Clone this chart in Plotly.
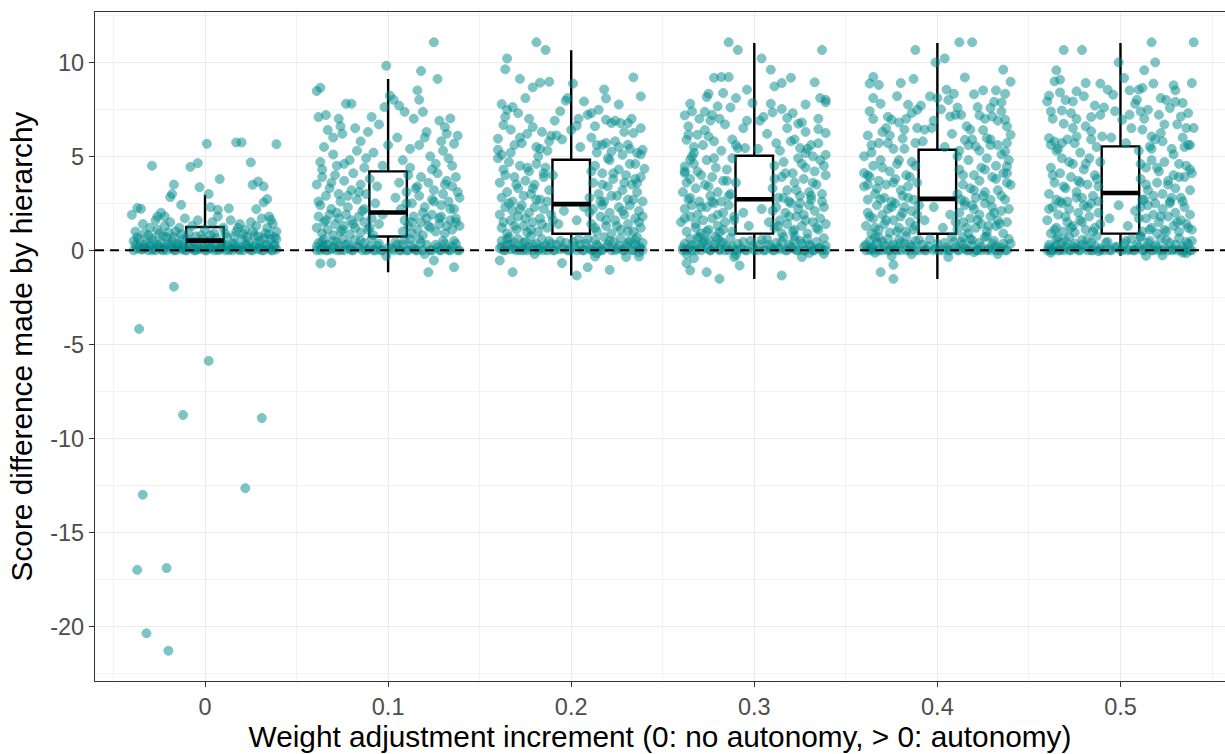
import plotly.graph_objects as go

# ---------------- data ----------------
groups = [0.0, 0.1, 0.2, 0.3, 0.4, 0.5]
tick_labels = ["0", "0.1", "0.2", "0.3", "0.4", "0.5"]

# box statistics
box_q1 = [0.0, 0.74, 0.88, 0.89, 0.88, 0.89]
box_median = [0.52, 2.01, 2.46, 2.72, 2.74, 3.05]
box_q3 = [1.24, 4.20, 4.82, 5.03, 5.35, 5.53]
box_lower = [0.0, -1.16, -1.34, -1.52, -1.52, -0.29]
box_upper = [2.96, 9.12, 10.64, 11.03, 11.03, 11.03]

# jittered points: (jitter offset in thousandths of x unit, score difference)
points_g0 = [
    (1, 5.67), (17, 5.74), (20, 5.74), (39, 5.65), (-29, 4.5), (-8, 4.44), (-4, 4.64), (25, 4.68),
    (8, 3.79), (-17, 3.5), (-3, 3.36), (26, 3.49), (29, 3.66), (32, 3.4), (-18, 3.0), (-19, 2.83),
    (2, 3.0), (-13, 2.42), (34, 2.73), (32, 2.55), (-37, 2.25), (-35, 2.21), (-40, 1.89), (-24, 2.0),
    (-26, 1.8), (-22, 1.8), (3, 2.3), (7, 2.16), (13, 2.23), (28, 2.19), (35, 1.8), (36, 1.62),
    (-38, 1.0), (-36, 0.6), (-34, 1.4), (-33, 0.3), (-31, 0.8), (-30, 1.2), (-28, 0.5), (-27, 1.6),
    (-25, 0.9), (-24, 0.4), (-22, 1.3), (-21, 0.7), (-19, 1.5), (-18, 0.5), (-16, 1.0), (-15, 0.35),
    (-14, 1.2), (-12, 0.6), (-11, 1.7), (-9, 0.9), (-7, 1.3), (-6, 0.45), (-4, 1.6), (-2, 0.8),
    (0, 1.1), (2, 0.5), (4, 1.5), (5, 0.9), (7, 1.8), (9, 0.4), (10, 1.2), (12, 0.7), (14, 1.6),
    (15, 0.35), (17, 1.0), (19, 1.4), (20, 0.6), (22, 1.1), (24, 0.45), (25, 1.5), (27, 0.8),
    (28, 1.3), (30, 0.5), (31, 1.7), (33, 0.9), (34, 1.2), (36, 0.6), (37, 1.4), (38, 0.3), (39, 1.0),
    (-39, 0.0), (-37, 0.1), (-36, 0.2), (-34, 0.05), (-33, 0.15), (-31, 0.0), (-30, 0.25), (-28, 0.1),
    (-27, 0.0), (-25, 0.2), (-24, 0.05), (-22, 0.15), (-21, 0.0), (-19, 0.25), (-18, 0.1), (-16, 0.0),
    (-15, 0.2), (-13, 0.05), (-12, 0.15), (-10, 0.0), (-9, 0.25), (-7, 0.1), (-6, 0.0), (-4, 0.2),
    (-3, 0.05), (-1, 0.15), (0, 0.0), (2, 0.25), (3, 0.1), (5, 0.0), (6, 0.2), (8, 0.05), (9, 0.15),
    (11, 0.0), (12, 0.25), (14, 0.1), (15, 0.0), (17, 0.2), (18, 0.05), (20, 0.15), (21, 0.0),
    (23, 0.25), (24, 0.1), (26, 0.0), (27, 0.2), (29, 0.05), (30, 0.15), (32, 0.0), (33, 0.25),
    (35, 0.1), (36, 0.0), (38, 0.2), (39, 0.05),
    (-38, 0.3), (-35, 0.05), (-32, 0.4), (-29, 0.0), (-26, 0.3), (-23, 0.0), (-20, 0.35), (-17, 0.0),
    (-14, 0.3), (-11, 0.0), (-8, 0.35), (-5, 0.0), (-2, 0.3), (1, 0.0), (4, 0.35), (7, 0.0), (10, 0.3),
    (13, 0.0), (16, 0.35), (19, 0.0), (22, 0.3), (25, 0.0), (28, 0.35), (31, 0.0), (34, 0.3), (37, 0.0),
    (-37, 0.7), (-33, 0.9), (-29, 0.65), (-26, 1.1), (-23, 0.75), (-20, 0.95), (-17, 0.7), (-13, 0.85),
    (-10, 0.6), (-5, 0.75), (-1, 0.6), (3, 0.8), (6, 0.65), (11, 0.9), (16, 0.75), (18, 1.2), (21, 0.85),
    (23, 0.7), (26, 1.0), (29, 0.75), (32, 0.65), (35, 0.85), (38, 0.7), (-39, 0.5), (39, 0.6),
    (-17, -1.93), (-36, -4.18), (2, -5.88), (-12, -8.76), (31, -8.92), (22, -12.65), (-34, -13.0),
    (-21, -16.9), (-37, -17.0), (-32, -20.37), (-20, -21.3),
]

points_g1 = [
    (25, 11.07), (-1, 9.82), (18, 9.54), (27, 9.12), (-37, 8.65), (-39, 8.48), (16, 8.51), (17, 8.01),
    (1, 8.23), (3, 8.01), (-2, 7.62), (-23, 7.8), (-20, 7.8), (-38, 7.09), (-27, 7.0), (9, 7.37),
    (14, 7.0), (19, 7.37), (34, 7.02), (28, 6.9), (31, 6.56), (36, 5.67),
    (-33, 6.4), (-30, 6.0), (-35, 5.5), (-25, 6.2), (-18, 6.5), (-15, 5.8), (-11, 6.3), (-8, 5.2),
    (-5, 6.7), (0, 5.6), (5, 6.0), (8, 4.8), (12, 5.4), (21, 6.3), (23, 5.0), (26, 4.6), (30, 5.3),
    (33, 4.9), (38, 6.1), (-28, 4.5), (-21, 4.8), (-13, 4.4), (-37, 4.7), (-3, 4.5),
    (-39, 3.5), (-37, 2.4), (-36, 3.9), (-34, 2.9), (-32, 3.3), (-31, 2.2), (-29, 4.0), (-27, 3.0),
    (-26, 2.6), (-24, 3.7), (-22, 2.3), (-20, 3.2), (-19, 4.1), (-17, 2.7), (-15, 3.5), (-14, 2.1),
    (-12, 3.0), (-10, 3.8), (-7, 2.5), (-6, 3.4), (4, 2.8), (6, 3.6), (7, 2.2), (10, 3.1), (11, 4.0),
    (13, 2.5), (15, 3.3), (17, 2.9), (18, 3.9), (20, 2.3), (22, 3.6), (24, 2.7), (25, 3.2), (27, 4.1),
    (29, 2.4), (30, 3.0), (32, 3.7), (33, 2.6), (35, 3.4), (36, 2.2), (37, 3.9), (39, 2.8), (38, 3.1),
    (-39, 1.2), (-38, 1.8), (-36, 0.9), (-35, 1.5), (-33, 1.1), (-32, 1.9), (-30, 0.8), (-29, 1.4),
    (-27, 1.7), (-26, 1.0), (-24, 1.3), (-23, 1.9), (-21, 0.85), (-20, 1.6), (-18, 1.2), (-16, 1.8),
    (-15, 0.95), (-13, 1.5), (-11, 1.1), (-9, 1.7), (-8, 0.8), (-5, 1.4), (-3, 1.9), (8, 1.0),
    (9, 1.6), (11, 1.3), (13, 0.9), (14, 1.8), (16, 1.1), (18, 1.5), (19, 0.8), (21, 1.7), (23, 1.2),
    (24, 1.9), (26, 1.0), (28, 1.4), (29, 1.8), (31, 0.9), (32, 1.3), (34, 1.6), (35, 1.1), (37, 1.7),
    (39, 1.3),
    (-39, 0.0), (-38, 0.4), (-37, -0.7), (-36, 0.1), (-35, 0.6), (-34, 0.0), (-33, 0.3), (-31, -0.67),
    (-31, 0.05), (-30, 0.5), (-28, 0.0), (-27, 0.2), (-25, 0.6), (-24, 0.0), (-22, 0.35), (-21, 0.1),
    (-19, 0.0), (-18, 0.55), (-16, 0.15), (-14, 0.0), (-13, 0.4), (-11, 0.05), (-9, 0.65), (-8, 0.0),
    (-6, 0.25), (-4, 0.0), (-1, -0.3), (2, 0.1), (4, 0.45), (6, 0.0), (8, 0.3), (10, 0.0), (12, 0.6),
    (14, 0.1), (16, 0.0), (18, 0.4), (20, -0.2), (22, -1.16), (23, 0.0), (25, -0.54), (26, 0.3),
    (28, 0.0), (30, 0.5), (32, 0.1), (34, 0.0), (36, -0.9), (37, 0.35), (39, 0.0),
    (-39, 0.2), (-37, 0.0), (-35, 0.25), (-33, 0.0), (-30, 0.15), (-28, 0.45), (-26, 0.0), (-23, 0.3),
    (-20, 0.0), (-17, 0.2), (-15, 0.5), (-12, 0.0), (-10, 0.2), (-7, 0.0), (-5, 0.35), (-3, 0.0),
    (0, 0.15), (3, 0.0), (5, 0.3), (7, 0.0), (9, 0.55), (11, 0.0), (13, 0.25), (15, 0.0), (17, 0.6),
    (19, 0.0), (21, 0.3), (24, 0.0), (27, 0.15), (29, 0.0), (31, 0.35), (33, 0.0), (35, 0.2), (38, 0.0),
    (-36, 0.45), (36, 0.5),
    (-38, 2.6), (-34, 1.6), (-31, 3.6), (-28, 2.0), (-25, 1.1), (-22, 2.9), (-19, 1.4), (-16, 3.1),
    (-13, 2.2), (-10, 1.2), (10, 2.5), (13, 1.5), (16, 3.4), (19, 2.0), (22, 1.3), (25, 2.6), (28, 1.7),
    (31, 3.5), (34, 2.2), (37, 1.5), (-36, 4.3), (-30, 5.1), (-24, 4.6), (-17, 5.3), (-12, 4.9),
    (12, 4.4), (17, 5.6), (24, 4.3), (29, 5.8), (35, 4.5), (-34, 7.2), (-26, 6.6), (-9, 7.1), (6, 7.7),
    (20, 6.0), (32, 6.2),
]

points_g2 = [
    (-19, 11.07), (-14, 10.66), (-35, 10.21), (-36, 9.63), (-28, 9.12), (-21, 8.67), (-17, 8.92),
    (-12, 8.97), (1, 8.87), (34, 9.2), (38, 8.19), (18, 8.56), (19, 8.08), (26, 7.76), (-25, 8.1),
    (-38, 7.78), (-35, 7.48), (-32, 7.62), (-3, 7.96), (-2, 8.1), (7, 7.92), (-37, 6.67), (-33, 6.42),
    (-21, 6.56), (-40, 5.94), (-40, 5.35), (-38, 5.08), (-17, 5.4), (-9, 6.9), (-11, 6.1), (-8, 6.11),
    (3, 6.63), (9, 7.21), (11, 7.3), (15, 7.48), (19, 6.95), (22, 6.77), (27, 6.77), (31, 6.77),
    (34, 6.24), (31, 5.62), (36, 5.18), (39, 5.35), (40, 4.34), (36, 3.58), (19, 5.71), (17, 5.62),
    (22, 5.26), (28, 5.08), (-32, -1.16), (-5, -0.68), (3, -1.34), (9, -0.9), (21, -1.04),
    (-39, -0.54), (30, -0.36), (37, -0.33), (13, -0.33),
    (-39, 0.1), (-38, 0.5), (-37, 0.0), (-35, 0.3), (-34, 0.7), (-33, 0.05), (-31, 0.4), (-30, 0.0),
    (-29, 0.6), (-27, 0.15), (-26, 0.0), (-25, 0.45), (-23, 0.2), (-22, 0.75), (-21, 0.0), (-19, 0.35),
    (-18, 0.1), (-16, 0.6), (-15, 0.0), (-14, 0.25), (-12, 0.5), (-10, 0.0), (-8, 0.3), (-6, 0.05),
    (-3, 0.4), (-1, 0.0), (2, 0.2), (4, 0.6), (6, 0.0), (8, 0.35), (10, 0.1), (12, 0.0), (13, 0.55),
    (15, 0.2), (17, 0.0), (18, 0.7), (20, 0.3), (22, 0.0), (23, 0.45), (25, 0.1), (27, 0.65), (28, 0.0),
    (30, 0.25), (32, 0.5), (33, 0.0), (35, 0.3), (36, 0.7), (38, 0.1), (39, 0.4), (37, -0.1),
    (-20, -0.2), (14, -0.15),
    (-39, 1.9), (-38, 1.2), (-36, 2.3), (-35, 0.9), (-33, 1.6), (-32, 2.1), (-30, 1.1), (-29, 1.8),
    (-27, 2.4), (-26, 1.3), (-24, 0.95), (-23, 2.0), (-21, 1.5), (-20, 2.3), (-18, 1.0), (-17, 1.7),
    (-15, 2.2), (-13, 1.2), (-11, 1.9), (11, 1.4), (12, 2.2), (14, 1.0), (16, 1.8), (17, 2.4),
    (19, 1.3), (21, 2.0), (22, 0.9), (24, 1.6), (26, 2.3), (27, 1.1), (29, 1.9), (31, 1.4), (32, 2.4),
    (34, 1.0), (35, 1.7), (37, 2.1), (38, 1.2), (39, 1.8), (-7, 1.4), (-4, 2.1), (3, 1.6), (7, 2.3),
    (-39, 3.6), (-38, 2.8), (-37, 4.3), (-35, 3.1), (-34, 4.7), (-32, 2.6), (-31, 3.9), (-29, 3.3),
    (-28, 4.5), (-26, 2.9), (-25, 3.7), (-23, 4.2), (-22, 3.0), (-20, 3.5), (-19, 4.6), (-17, 2.7),
    (-15, 3.9), (-14, 4.4), (-12, 3.2), (-10, 4.0), (10, 2.8), (12, 3.6), (13, 4.5), (15, 3.0),
    (17, 4.1), (18, 2.6), (20, 3.4), (21, 4.8), (23, 3.8), (25, 2.9), (26, 4.3), (28, 3.2), (30, 4.0),
    (31, 2.7), (33, 3.5), (35, 4.6), (36, 3.1), (38, 3.9), (39, 2.6), (-40, 4.9),
    (-31, 5.6), (-24, 6.2), (-13, 5.3), (-5, 5.9), (0, 6.4), (5, 5.5), (11, 6.0), (14, 5.2), (24, 5.8),
    (29, 6.3), (32, 5.4), (-28, 6.0), (-19, 5.5),
    (-38, 0.2), (-36, 0.0), (-33, 0.3), (-31, 0.1), (-28, 0.0), (-26, 0.4), (-24, 0.0), (-21, 0.3),
    (-18, 0.0), (-16, 0.15), (-13, 0.0), (-11, 0.35), (-9, 0.0), (-6, 0.5), (-4, 0.1), (-2, 0.0),
    (1, 0.45), (3, 0.0), (5, 0.3), (7, 0.0), (9, 0.6), (11, 0.0), (14, 0.3), (16, 0.0), (19, 0.15),
    (21, 0.5), (24, 0.0), (26, 0.25), (29, 0.0), (31, 0.4), (34, 0.0), (37, 0.2), (39, 0.0), (-35, 0.6),
    (35, 0.55),
    (-37, 1.5), (-34, 2.5), (-31, 1.3), (-28, 2.2), (-25, 1.7), (-22, 1.1), (-19, 2.7), (-16, 1.4),
    (-13, 2.6), (-10, 1.6), (10, 2.0), (13, 1.2), (16, 2.6), (19, 1.6), (22, 2.9), (25, 1.3), (28, 2.1),
    (31, 1.0), (34, 2.7), (37, 1.5),
    (-36, 4.0), (-33, 5.2), (-30, 3.5), (-27, 5.7), (-24, 4.4), (-21, 3.3), (-18, 5.0), (-15, 4.1),
    (-12, 5.8), (11, 4.2), (14, 5.6), (17, 3.5), (20, 4.9), (23, 4.1), (26, 5.5), (29, 3.6), (32, 4.6),
    (35, 3.8), (38, 5.1),
    (-36, 7.1), (-29, 7.3), (-23, 7.0), (-16, 6.3), (-6, 7.4), (4, 7.0), (13, 6.6), (24, 6.9), (33, 7.0),
    (38, 6.5),
]

points_g3 = [
    (-14, 11.07), (-9, 10.66), (37, 10.66), (4, 10.21), (9, 9.61), (-22, 9.18), (-18, 9.22), (-14, 9.22),
    (11, 8.72), (15, 8.9), (20, 9.18), (33, 8.94), (39, 8.01), (39, 7.87), (28, 7.76), (-25, 8.33),
    (-26, 8.16), (-17, 8.37), (-10, 8.1), (-4, 8.55), (-38, 7.18), (-34, 7.39), (-35, 7.8), (-27, 7.37),
    (-20, 7.66), (-23, 7.21), (-1, 7.84), (10, 7.34), (15, 7.52), (18, 7.04), (24, 6.74), (35, 7.0),
    (35, 6.45), (39, 6.24), (-36, 6.15), (-37, 5.88), (-31, 6.15), (-25, 6.06), (39, 5.08), (25, 5.44),
    (28, 5.18), (32, 5.0), (-33, 5.18), (-38, 4.46), (-38, 4.11), (-35, 4.82), (-5, 5.44), (-9, 5.44),
    (-26, -1.16), (-19, -1.52), (15, -1.34), (-8, -0.81), (-35, -1.07), (-37, -0.68), (26, -0.36),
    (38, -0.19), (-33, -0.42), (-11, -0.36),
    (-39, 0.0), (-38, 0.35), (-36, 0.1), (-35, 0.6), (-34, 0.0), (-32, 0.25), (-31, 0.7), (-29, 0.0),
    (-28, 0.4), (-26, 0.1), (-25, 0.55), (-24, 0.0), (-22, 0.3), (-21, 0.75), (-19, 0.05), (-18, 0.45),
    (-16, 0.0), (-15, 0.2), (-13, 0.65), (-11, 0.0), (-9, 0.35), (-7, 0.1), (-5, 0.0), (-2, 0.5),
    (0, 0.0), (3, 0.3), (5, 0.0), (7, 0.6), (9, 0.15), (11, 0.0), (12, 0.4), (14, 0.05), (16, 0.7),
    (17, 0.0), (19, 0.3), (21, 0.1), (22, 0.55), (24, 0.0), (26, 0.35), (27, 0.0), (29, 0.6), (31, 0.2),
    (32, 0.0), (34, 0.45), (35, 0.1), (37, 0.0), (38, 0.65), (39, 0.25), (-37, -0.2), (30, -0.15),
    (-10, -0.25),
    (-40, 1.5), (-38, 2.2), (-37, 1.0), (-35, 1.8), (-34, 2.4), (-32, 1.2), (-31, 1.9), (-29, 0.9),
    (-28, 1.6), (-26, 2.3), (-25, 1.1), (-23, 1.7), (-22, 2.5), (-20, 1.3), (-19, 0.95), (-17, 2.0),
    (-16, 1.5), (-14, 2.4), (-12, 1.0), (-11, 1.8), (11, 1.2), (12, 2.3), (14, 1.6), (15, 0.9),
    (17, 2.0), (18, 1.4), (20, 2.5), (21, 1.0), (23, 1.8), (24, 2.2), (26, 1.3), (27, 1.9), (29, 0.9),
    (30, 2.4), (32, 1.5), (33, 2.1), (35, 1.1), (36, 1.7), (38, 2.3), (39, 1.4), (-6, 2.0), (-3, 1.3),
    (4, 2.2), (8, 1.5),
    (-39, 3.1), (-38, 4.2), (-36, 2.7), (-35, 3.8), (-33, 4.6), (-32, 3.3), (-30, 2.6), (-29, 4.0),
    (-27, 3.5), (-26, 4.8), (-24, 2.9), (-23, 3.9), (-21, 4.4), (-20, 3.1), (-18, 2.6), (-17, 3.7),
    (-15, 4.3), (-13, 3.0), (-12, 4.9), (-10, 3.6), (10, 3.3), (11, 4.5), (13, 2.8), (15, 3.9),
    (16, 4.7), (18, 3.2), (19, 2.6), (21, 4.1), (22, 3.6), (24, 4.9), (25, 2.9), (27, 3.8), (28, 4.4),
    (30, 3.1), (31, 2.7), (33, 4.2), (34, 3.5), (36, 4.8), (37, 3.0), (39, 4.0),
    (-33, 5.5), (-27, 6.4), (-22, 5.8), (-16, 6.7), (-10, 5.6), (-4, 6.9), (2, 5.4), (7, 6.2),
    (12, 5.7), (18, 6.5), (22, 5.9), (26, 6.8), (31, 5.6), (-19, 7.0), (5, 7.1),
    (-39, 0.15), (-37, 0.0), (-34, 0.3), (-32, 0.0), (-29, 0.2), (-27, 0.5), (-24, 0.0), (-22, 0.15),
    (-19, 0.0), (-17, 0.4), (-14, 0.0), (-12, 0.2), (-9, 0.0), (-6, 0.45), (-4, 0.0), (-1, 0.25),
    (2, 0.0), (4, 0.55), (6, 0.0), (8, 0.3), (10, 0.0), (13, 0.15), (15, 0.45), (18, 0.0), (20, 0.2),
    (23, 0.0), (25, 0.5), (28, 0.0), (30, 0.3), (33, 0.0), (36, 0.15), (39, 0.0), (-30, 0.7), (22, 0.75),
    (-20, 0.6),
    (-38, 1.7), (-35, 2.8), (-32, 1.4), (-29, 2.3), (-26, 1.0), (-23, 2.6), (-20, 1.9), (-17, 1.1),
    (-14, 2.9), (-11, 1.6), (10, 2.1), (13, 1.3), (16, 2.8), (19, 1.8), (22, 1.1), (25, 2.5), (28, 1.6),
    (31, 2.9), (34, 1.2), (37, 2.6),
    (-37, 3.6), (-34, 5.0), (-31, 4.2), (-28, 5.6), (-25, 3.4), (-22, 4.9), (-18, 5.3), (-15, 3.7),
    (-12, 5.9), (11, 3.8), (14, 5.3), (17, 4.1), (20, 5.8), (23, 3.2), (26, 4.6), (29, 5.4), (32, 3.6),
    (35, 5.7), (38, 4.5),
    (-36, 6.6), (-30, 7.0), (-24, 6.9), (-13, 7.6), (-6, 6.5), (3, 6.9), (9, 7.8), (21, 7.3), (28, 6.3),
    (36, 8.1),
]

points_g4 = [
    (12, 11.07), (19, 11.07), (-12, 10.66), (-1, 10.0), (4, 10.21), (36, 9.61), (40, 8.97), (-35, 9.22),
    (-37, 8.87), (-32, 8.8), (-20, 8.9), (-13, 9.12), (15, 9.2), (-35, 8.1), (-4, 8.19), (0, 8.1),
    (5, 8.55), (9, 8.33), (25, 8.51), (32, 8.51), (37, 8.33), (35, 7.87), (-16, 7.75), (-11, 7.48),
    (-35, 6.99), (-25, 6.95), (-28, 6.51), (-26, 6.11), (-38, 6.11), (-32, 5.71), (7, 7.12), (10, 7.21),
    (13, 7.21), (22, 7.62), (23, 7.18), (29, 7.57), (30, 7.12), (35, 7.39), (37, 6.95), (38, 6.59),
    (40, 6.15), (38, 5.71), (37, 5.26), (38, 4.46), (40, 3.49), (18, 6.42), (15, 5.88), (21, 5.53),
    (27, 5.97), (-18, 6.42), (-11, 6.51), (-7, 6.42), (-3, 6.51), (-19, 5.94), (-12, 5.71), (-40, 5.0),
    (-40, 4.11), (-38, 3.49), (-31, -1.16), (-24, -1.52), (6, -0.36), (-24, -0.77), (-34, -0.13),
    (-14, -0.21), (40, 0.35),
    (-40, 0.2), (-39, 0.0), (-37, 0.5), (-36, 0.1), (-35, 0.0), (-33, 0.4), (-32, 0.7), (-30, 0.0),
    (-29, 0.25), (-27, 0.6), (-26, 0.0), (-24, 0.3), (-23, 0.05), (-21, 0.55), (-20, 0.0), (-18, 0.35),
    (-17, 0.75), (-15, 0.0), (-14, 0.2), (-12, 0.5), (-10, 0.0), (-8, 0.3), (-6, 0.0), (-4, 0.6),
    (-1, 0.1), (1, 0.0), (4, 0.4), (6, 0.0), (8, 0.7), (10, 0.15), (11, 0.0), (13, 0.45), (15, 0.1),
    (16, 0.0), (18, 0.6), (19, 0.25), (21, 0.0), (23, 0.4), (24, 0.0), (26, 0.7), (28, 0.1), (29, 0.0),
    (31, 0.5), (32, 0.2), (34, 0.0), (36, 0.35), (37, 0.0), (39, 0.6), (33, -0.2), (-25, -0.3),
    (20, -0.1),
    (-39, 1.3), (-38, 2.0), (-36, 0.9), (-35, 1.7), (-33, 2.4), (-32, 1.1), (-30, 1.9), (-29, 1.4),
    (-27, 2.2), (-26, 0.95), (-24, 1.6), (-23, 2.5), (-21, 1.2), (-20, 1.8), (-18, 2.3), (-17, 1.0),
    (-15, 1.5), (-14, 2.1), (-12, 1.3), (-11, 1.9), (11, 1.1), (12, 2.0), (14, 1.5), (15, 2.4),
    (17, 0.9), (18, 1.7), (20, 2.2), (21, 1.2), (23, 1.9), (24, 1.4), (26, 2.5), (27, 1.0), (29, 1.8),
    (30, 2.3), (32, 1.3), (33, 1.6), (35, 2.1), (36, 0.9), (38, 1.5), (39, 2.2), (-7, 1.6), (-2, 2.3),
    (3, 1.2), (7, 1.9),
    (-40, 3.4), (-38, 2.7), (-37, 3.9), (-35, 4.5), (-34, 3.0), (-32, 3.7), (-31, 4.8), (-29, 2.8),
    (-28, 3.5), (-26, 4.2), (-25, 2.6), (-23, 3.8), (-22, 4.6), (-20, 3.2), (-19, 2.9), (-17, 4.0),
    (-16, 3.4), (-14, 4.7), (-13, 2.7), (-11, 3.6), (11, 3.0), (12, 4.3), (14, 3.5), (15, 2.6),
    (17, 4.8), (18, 3.3), (20, 4.0), (21, 2.8), (23, 3.7), (24, 4.4), (26, 3.1), (27, 4.9), (29, 2.7),
    (30, 3.9), (32, 4.5), (33, 3.2), (35, 2.9), (36, 4.1), (38, 3.6), (39, 4.8),
    (-36, 5.6), (-30, 6.3), (-24, 5.4), (-21, 6.8), (-8, 5.8), (-2, 6.9), (4, 5.5), (8, 6.2),
    (12, 5.3), (16, 6.6), (19, 5.9), (25, 6.4), (29, 5.6), (33, 6.9), (-14, 7.3), (2, 7.5),
    (-39, 0.3), (-37, 0.0), (-35, 0.2), (-32, 0.0), (-30, 0.45), (-27, 0.0), (-25, 0.2), (-22, 0.0),
    (-20, 0.4), (-17, 0.0), (-15, 0.3), (-12, 0.0), (-10, 0.55), (-7, 0.0), (-5, 0.2), (-2, 0.0),
    (0, 0.35), (3, 0.0), (5, 0.15), (7, 0.0), (9, 0.45), (12, 0.0), (14, 0.3), (17, 0.0), (19, 0.55),
    (22, 0.0), (24, 0.2), (27, 0.0), (30, 0.35), (32, 0.0), (35, 0.15), (38, 0.0), (-34, 0.7), (27, 0.75),
    (14, 0.7),
    (-37, 1.8), (-34, 1.2), (-31, 2.7), (-28, 1.6), (-25, 2.3), (-22, 1.0), (-19, 2.0), (-16, 2.8),
    (-13, 1.1), (-10, 2.4), (10, 1.5), (13, 2.7), (16, 1.2), (19, 2.4), (22, 1.6), (25, 2.9), (28, 1.3),
    (31, 2.0), (34, 1.4), (37, 2.7),
    (-38, 4.0), (-36, 5.2), (-33, 3.3), (-30, 4.4), (-27, 5.7), (-24, 3.6), (-21, 4.8), (-18, 5.4),
    (-15, 3.9), (-12, 4.5), (11, 5.0), (14, 4.0), (17, 5.6), (20, 3.2), (23, 5.3), (26, 4.3), (29, 5.9),
    (32, 3.8), (35, 5.1), (38, 4.1),
    (-37, 7.4), (-31, 7.8), (-27, 7.1), (-22, 8.2), (-17, 7.0), (-9, 7.7), (6, 8.0), (11, 7.6), (20, 8.3),
    (26, 7.0), (31, 7.9), (33, 5.6),
]

points_g5 = [
    (17, 11.07), (40, 11.07), (-31, 10.66), (-21, 10.66), (-1, 10.0), (19, 10.0), (-35, 9.58), (13, 9.58),
    (-36, 8.99), (-33, 9.08), (-19, 8.9), (-11, 8.87), (2, 9.17), (18, 8.87), (29, 8.78), (-39, 8.23),
    (-40, 7.92), (-33, 8.4), (-24, 8.46), (-26, 7.92), (-7, 8.55), (-4, 8.28), (5, 8.51), (10, 8.55),
    (9, 8.01), (12, 8.64), (34, 7.84), (30, 8.51), (-38, 7.39), (-32, 7.44), (-24, 6.99), (-16, 7.09),
    (-11, 7.21), (1, 6.95), (5, 7.21), (11, 7.39), (15, 7.48), (21, 7.21), (27, 7.57), (33, 7.12),
    (36, 6.51), (40, 6.51), (-31, 6.74), (-26, 6.51), (-24, 6.06), (-16, 6.33), (-10, 6.06), (-39, 5.97),
    (-38, 5.62), (-36, 5.79), (-32, 5.71), (12, 6.42), (17, 6.06), (22, 6.24), (16, 5.53), (37, 5.62),
    (14, -0.29), (23, -0.27), (34, -0.13), (-38, -0.13),
    (-40, 0.0), (-39, 0.3), (-38, 0.0), (-36, 0.15), (-35, 0.6), (-34, 0.0), (-32, 0.4), (-31, 0.0),
    (-30, 0.2), (-28, 0.7), (-27, 0.0), (-25, 0.35), (-24, 0.1), (-22, 0.0), (-21, 0.55), (-19, 0.2),
    (-18, 0.0), (-16, 0.4), (-15, 0.0), (-13, 0.75), (-11, 0.1), (-9, 0.0), (-7, 0.45), (-5, 0.0),
    (-2, 0.2), (1, 0.0), (3, 0.5), (5, 0.05), (7, 0.0), (9, 0.3), (11, 0.7), (12, 0.0), (14, 0.15),
    (16, 0.5), (17, 0.0), (19, 0.25), (21, 0.0), (22, 0.6), (24, 0.1), (26, 0.0), (27, 0.4), (29, 0.05),
    (31, 0.0), (32, 0.65), (34, 0.2), (35, 0.0), (37, 0.35), (38, 0.0), (39, 0.5), (36, -0.15),
    (-12, -0.05),
    (-40, 1.6), (-38, 0.9), (-37, 2.3), (-35, 1.2), (-34, 1.9), (-32, 2.5), (-31, 1.0), (-29, 1.5),
    (-28, 2.2), (-26, 1.3), (-25, 0.95), (-23, 2.0), (-22, 1.6), (-20, 2.4), (-19, 1.1), (-17, 1.8),
    (-16, 2.5), (-14, 1.2), (-12, 2.0), (-11, 1.4), (11, 2.3), (12, 1.0), (14, 1.7), (15, 2.4),
    (17, 1.2), (18, 1.9), (20, 0.9), (21, 1.5), (23, 2.2), (24, 1.1), (26, 1.8), (27, 2.5), (29, 1.3),
    (30, 2.0), (32, 1.0), (33, 1.6), (35, 2.3), (36, 1.4), (38, 1.9), (39, 1.1), (-6, 1.7), (-1, 2.4),
    (4, 1.3), (8, 2.1),
    (-39, 3.0), (-38, 4.4), (-36, 3.6), (-35, 2.7), (-33, 4.1), (-32, 4.9), (-30, 3.3), (-29, 2.6),
    (-27, 3.9), (-26, 4.6), (-24, 3.1), (-23, 3.7), (-21, 2.8), (-20, 4.3), (-18, 3.5), (-17, 4.9),
    (-15, 2.9), (-14, 4.0), (-12, 3.4), (-11, 4.7), (11, 3.8), (12, 2.7), (14, 4.4), (15, 3.2),
    (17, 4.8), (18, 2.9), (20, 3.6), (21, 4.2), (23, 3.0), (24, 4.7), (26, 3.5), (27, 2.6), (29, 4.0),
    (30, 3.3), (32, 4.6), (33, 2.8), (35, 3.9), (36, 4.5), (38, 3.2), (39, 4.1),
    (-35, 5.3), (-29, 5.9), (-22, 5.2), (-19, 6.6), (-13, 5.5), (-5, 6.0), (3, 5.7), (6, 6.5),
    (10, 5.3), (19, 5.9), (24, 6.7), (28, 5.4), (34, 6.0), (38, 5.6), (-9, 7.6), (8, 7.8), (30, 7.9),
    (-39, 0.15), (-37, 0.0), (-35, 0.3), (-33, 0.0), (-30, 0.5), (-28, 0.0), (-26, 0.2), (-23, 0.0),
    (-21, 0.3), (-18, 0.6), (-16, 0.0), (-14, 0.25), (-11, 0.0), (-8, 0.4), (-6, 0.0), (-3, 0.15),
    (0, 0.0), (2, 0.35), (4, 0.0), (6, 0.6), (8, 0.0), (10, 0.2), (13, 0.0), (15, 0.4), (18, 0.0),
    (20, 0.15), (23, 0.0), (25, 0.55), (28, 0.0), (30, 0.3), (33, 0.0), (36, 0.45), (39, 0.0),
    (-34, 0.7), (11, 0.75),
    (-39, 2.2), (-36, 1.1), (-33, 2.6), (-30, 1.8), (-27, 1.2), (-24, 2.8), (-21, 1.5), (-18, 2.3),
    (-15, 1.0), (-12, 2.6), (10, 1.7), (13, 2.7), (16, 1.1), (19, 2.5), (22, 1.8), (25, 1.0), (28, 2.8),
    (31, 1.5), (34, 2.6), (37, 1.2),
    (-37, 4.0), (-34, 5.4), (-31, 3.4), (-28, 4.7), (-25, 5.7), (-22, 3.6), (-19, 4.6), (-16, 5.9),
    (-13, 3.8), (11, 4.6), (14, 3.5), (17, 5.4), (20, 4.4), (23, 5.8), (26, 3.7), (29, 5.1), (32, 3.9),
    (35, 5.5), (38, 4.3),
    (-37, 7.0), (-30, 8.0), (-27, 7.3), (-20, 8.2), (-14, 7.7), (-3, 7.4), (13, 7.0), (22, 8.1), (25, 8.0),
    (31, 6.7), (37, 7.3), (39, 8.9),
]

all_points = [points_g0, points_g1, points_g2, points_g3, points_g4, points_g5]

x_title = "Weight adjustment increment (0: no autonomy, > 0: autonomy)"
y_title = "Score difference made by hierarchy"

# ---------------- figure ----------------
POINT_COLOR = "#008B8B"
BOX_WIDTH = 0.0205
FONT = "Liberation Sans, Arial, sans-serif"

xs, ys = [], []
for g, pts in zip(groups, all_points):
    for j, v in pts:
        xs.append(g + j / 1000.0)
        ys.append(v)

fig = go.Figure()

fig.add_trace(go.Scatter(
    x=xs, y=ys, mode="markers",
    marker=dict(size=9, color=POINT_COLOR, opacity=0.5,
                line=dict(color=POINT_COLOR, width=1)),
    hoverinfo="skip", showlegend=False,
))

fig.add_trace(go.Box(
    x=groups, q1=box_q1, median=box_median, q3=box_q3,
    lowerfence=box_lower, upperfence=box_upper,
    width=BOX_WIDTH, whiskerwidth=0, boxpoints=False,
    fillcolor="white", line=dict(color="black", width=2.4),
    showlegend=False, hoverinfo="skip",
))

# thicker median bars (ggplot style)
mx, my = [], []
for g, m in zip(groups, box_median):
    mx += [g - BOX_WIDTH / 2, g + BOX_WIDTH / 2, None]
    my += [m, m, None]
fig.add_trace(go.Scatter(x=mx, y=my, mode="lines",
                         line=dict(color="black", width=4.6),
                         showlegend=False, hoverinfo="skip"))

fig.add_shape(type="line", xref="paper", x0=0, x1=1, yref="y", y0=0, y1=0,
              line=dict(color="black", width=2, dash="9px,6px"), layer="above")

fig.update_layout(
    width=1225, height=754,
    margin=dict(l=95, r=0, t=12, b=73),
    paper_bgcolor="white", plot_bgcolor="white",
    font=dict(family=FONT, size=23, color="#4d4d4d"),
    showlegend=False,
)

fig.update_xaxes(
    range=[-0.0601, 0.5571],
    tickmode="array", tickvals=groups, ticktext=tick_labels,
    ticks="outside", ticklen=5, tickwidth=1.4, tickcolor="#333333",
    tickfont=dict(size=23.5, color="#4d4d4d"),
    showgrid=True, gridcolor="#ebebeb", gridwidth=1.4,
    minor=dict(tickmode="linear", tick0=0.05, dtick=0.1, showgrid=True,
               gridcolor="#f2f2f2", gridwidth=0.9, ticks=""),
    showline=True, linecolor="#333333", linewidth=1.4, mirror=True,
    zeroline=False, automargin=False,
    title=dict(text=x_title, font=dict(size=29.8, color="black"), standoff=5),
)

fig.update_yaxes(
    range=[-22.91, 12.68],
    tickmode="array", tickvals=[-20, -15, -10, -5, 0, 5, 10],
    ticktext=["-20", "-15", "-10", "-5", "0", "5", "10"],
    ticks="outside", ticklen=5, tickwidth=1.4, tickcolor="#333333",
    tickfont=dict(size=23.5, color="#4d4d4d"),
    showgrid=True, gridcolor="#ebebeb", gridwidth=1.4,
    minor=dict(tickmode="linear", tick0=-22.5, dtick=5, showgrid=True,
               gridcolor="#f2f2f2", gridwidth=0.9, ticks=""),
    showline=True, linecolor="#333333", linewidth=1.4, mirror=False,
    zeroline=False, automargin=False,
    title=dict(text=y_title, font=dict(size=29.8, color="black"), standoff=8),
)

fig.write_html("out.html", config={"displayModeBar": False},
               post_script="document.body.style.margin='0px';")
